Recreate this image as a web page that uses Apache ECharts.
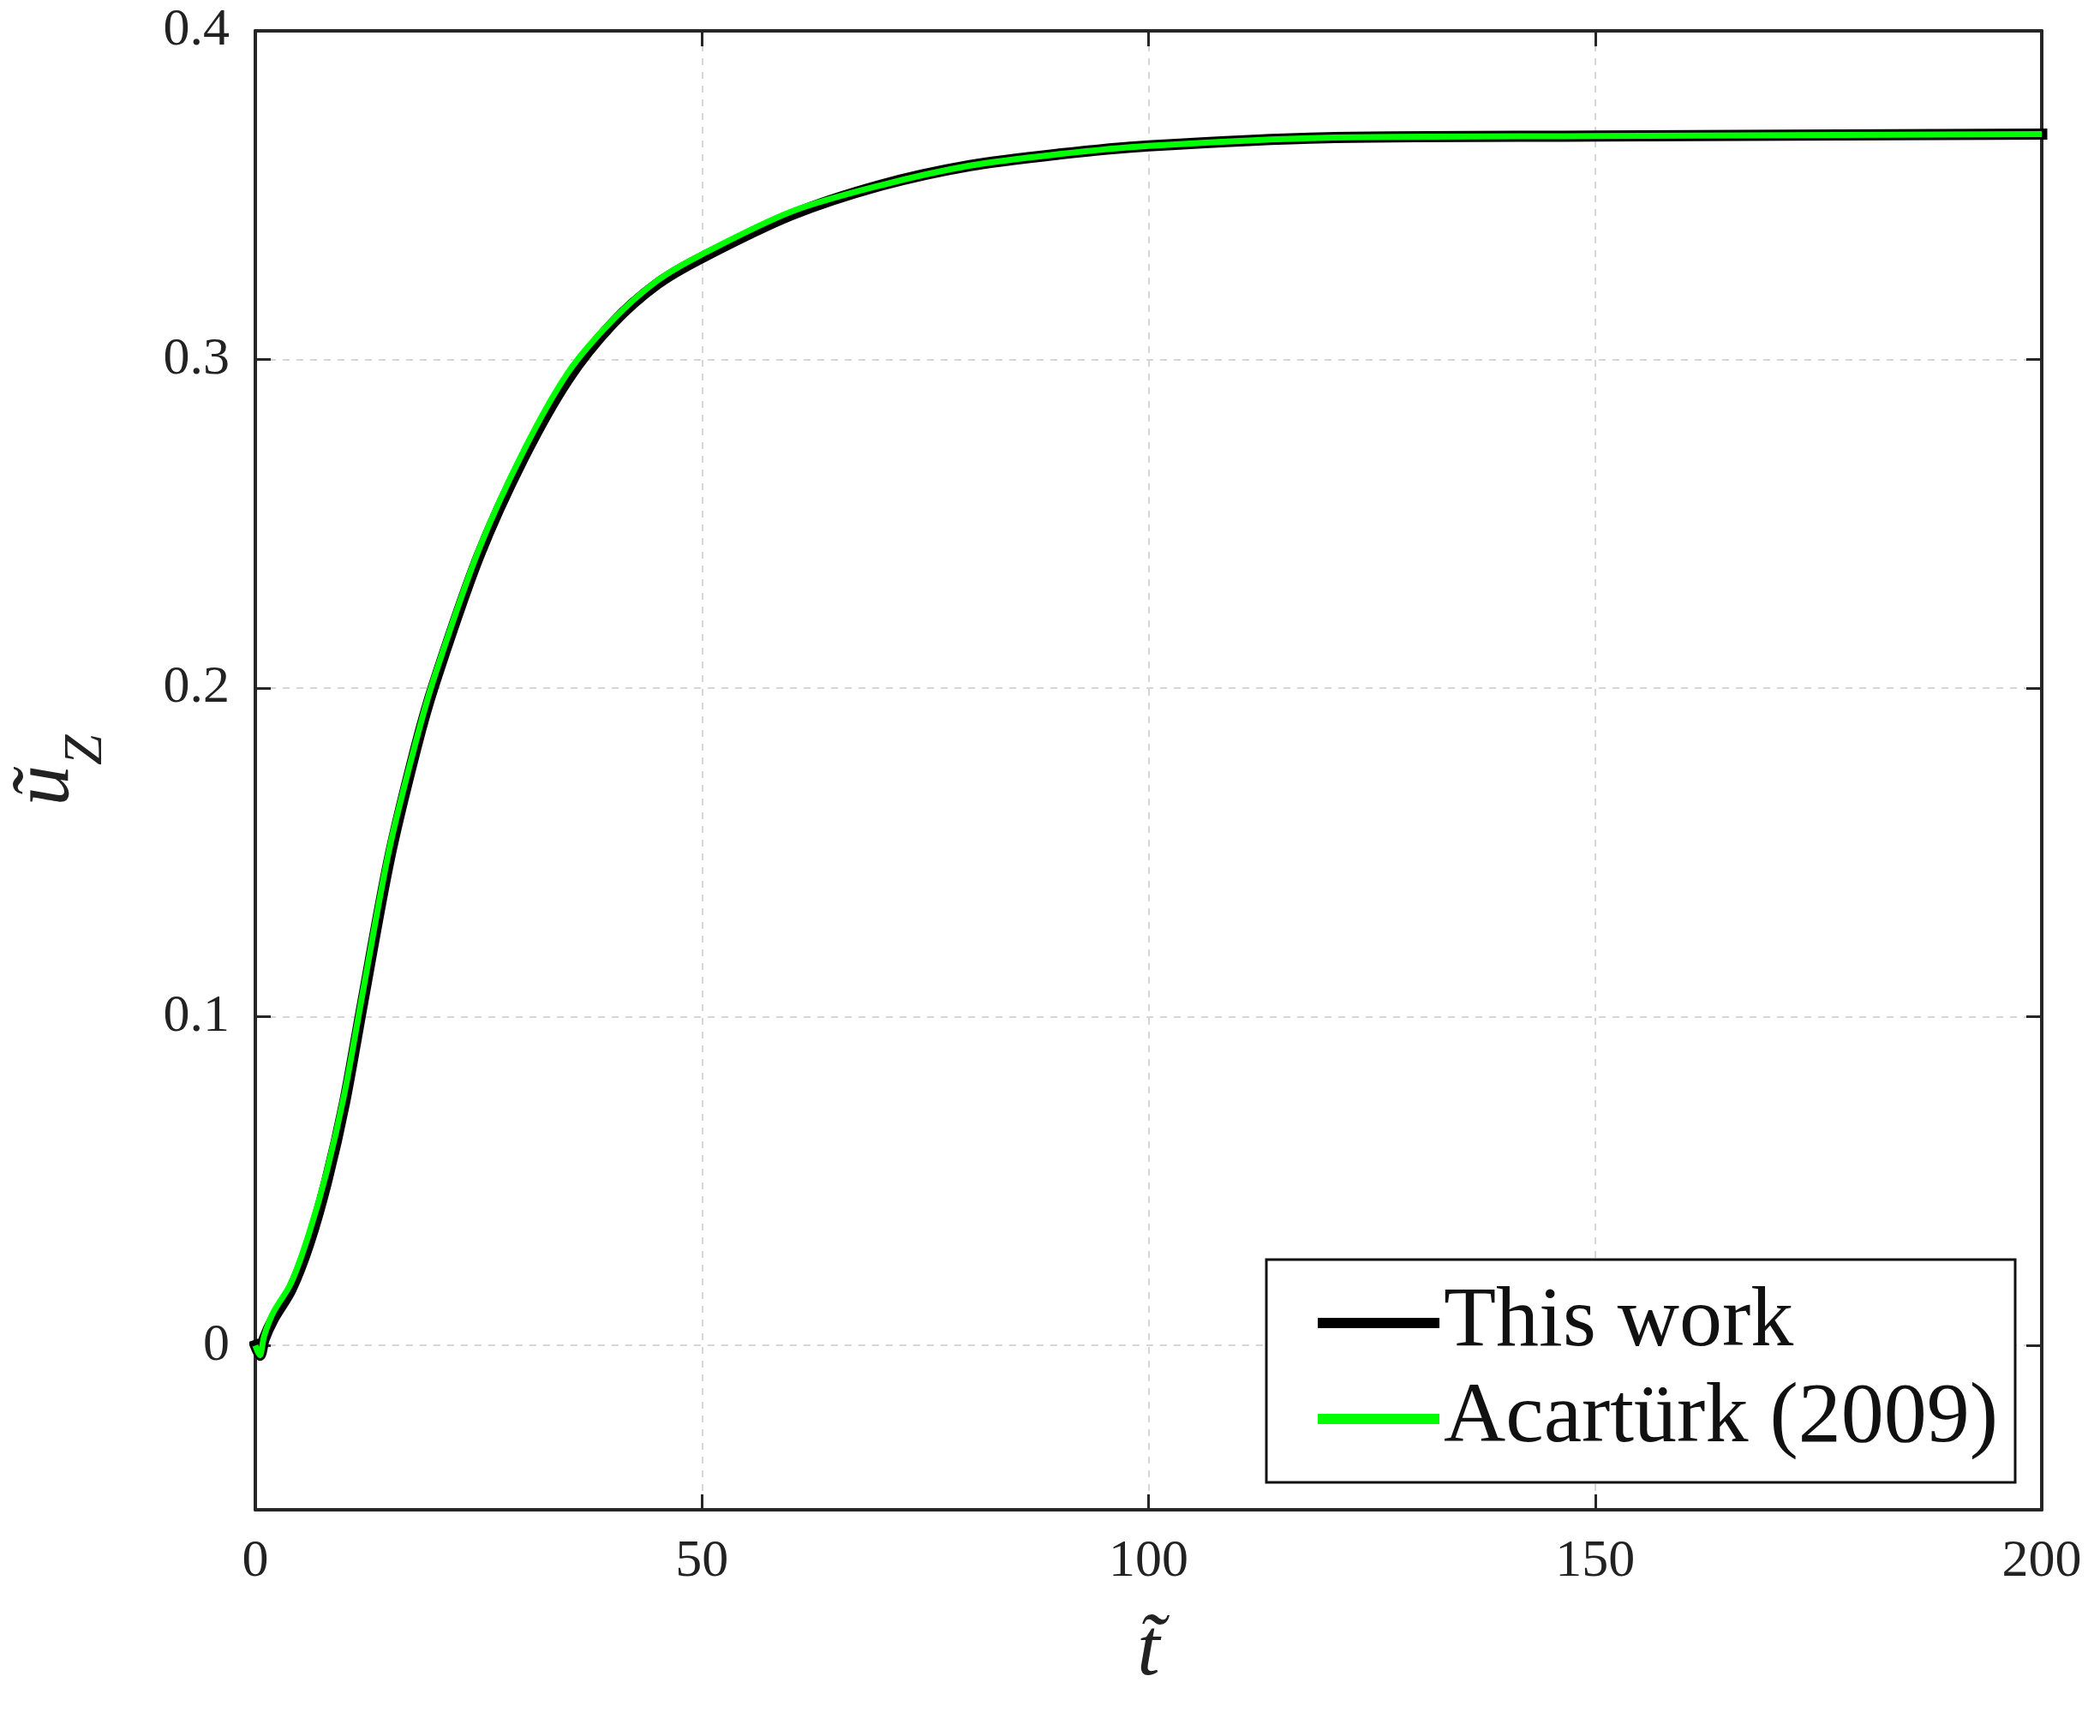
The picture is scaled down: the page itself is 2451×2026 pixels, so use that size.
<!DOCTYPE html>
<html><head><meta charset="utf-8">
<script src="https://cdn.jsdelivr.net/npm/echarts@6/dist/echarts.min.js"></script>
<style>html,body{margin:0;padding:0;background:#fff}#c{width:2451px;height:2026px}</style>
</head><body><div id="c"></div>
<script>
var tValues = [0, 0.5, 1, 2, 4, 6, 8, 10, 12, 15, 18, 20, 25, 30, 35, 40, 45, 50, 60, 70, 80, 90, 100, 120, 150, 200];
var thisWork = [0, -0.003, 0.002, 0.008, 0.017, 0.031, 0.050, 0.074, 0.104, 0.148, 0.182, 0.201, 0.240, 0.270, 0.294, 0.311, 0.323, 0.331, 0.344, 0.353, 0.359, 0.3625, 0.365, 0.3675, 0.368, 0.3686];
var acarturk = [0, -0.003, 0.003, 0.010, 0.019, 0.034, 0.053, 0.077, 0.107, 0.151, 0.184, 0.203, 0.242, 0.272, 0.296, 0.312, 0.324, 0.332, 0.345, 0.353, 0.359, 0.3625, 0.365, 0.3675, 0.368, 0.3686];
var xTicks = [0, 50, 100, 150, 200];
var yTicks = [0, 0.1, 0.2, 0.3, 0.4];

var ff = '"Liberation Serif", "DejaVu Serif", serif';
var axisCol = '#262626';
var chart = echarts.init(document.getElementById('c'));
function pairs(a){return tValues.map(function(t,i){return [t,a[i]];});}
var line = {onZero:false,lineStyle:{color:axisCol,width:4}};
var tick = {inside:true,length:18,lineStyle:{color:axisCol,width:3}};
var grid = {show:true,lineStyle:{color:'#d6d6d6',width:2,type:[8,8]}};
chart.setOption({
  backgroundColor:'#fff',
  animation:false,
  grid:{left:295,right:68,top:36,bottom:264,containLabel:false},
  xAxis:[
    {type:'value',min:0,max:200,interval:50,axisLine:line,axisTick:tick,
      name:'t\u0303',nameLocation:'middle',nameGap:120,
      nameTextStyle:{fontFamily:ff,fontStyle:'italic',fontSize:95,color:'#222'},
      axisLabel:{fontFamily:ff,fontSize:62,color:'#222',margin:30},
      splitLine:grid},
    {type:'value',min:0,max:200,interval:50,position:'top',axisLine:line,axisTick:tick,axisLabel:{show:false},splitLine:{show:false}}
  ],
  yAxis:[
    {type:'value',min:-0.05,max:0.4,axisLine:line,
      axisLabel:{fontFamily:ff,fontSize:62,color:'#222',margin:30,customValues:yTicks,
        formatter:function(v){return Math.abs(v)<1e-9?'0':v.toFixed(1);}},
      axisTick:Object.assign({customValues:yTicks},tick),
      name:'u\u0303{s|Z}',nameLocation:'middle',nameGap:195,nameRotate:90,
      nameTextStyle:{fontFamily:ff,fontStyle:'italic',fontSize:95,color:'#222',
        rich:{s:{fontFamily:ff,fontStyle:'italic',fontSize:64,color:'#222',verticalAlign:'bottom',padding:[0,0,-30,0]}}},
      splitLine:{show:true,lineStyle:{color:'#d6d6d6',width:2,type:[8,8]}}},
    {type:'value',min:-0.05,max:0.4,position:'right',axisLine:line,
      axisTick:Object.assign({customValues:yTicks},tick),
      axisLabel:{show:false},splitLine:{show:false}}
  ],
  legend:{right:99,bottom:296,orient:'vertical',backgroundColor:'#fff',borderColor:'#111',borderWidth:3,
    padding:[24,20,24,60],itemGap:12,itemWidth:142,itemHeight:12,
    textStyle:{fontFamily:ff,fontSize:100,color:'#111'},
    data:[{name:'This work',icon:'rect',itemStyle:{color:'#000'}},{name:'Acartürk (2009)',icon:'rect',itemStyle:{color:'#00ff00'}}]},
  series:[
    {name:'This work',type:'line',smooth:0.3,symbol:'none',data:pairs(thisWork),lineStyle:{color:'#000',width:13,cap:'square'},itemStyle:{color:'#000'},z:2},
    {name:'Acartürk (2009)',type:'line',smooth:0.3,symbol:'none',data:pairs(acarturk),lineStyle:{color:'#00ff00',width:7},itemStyle:{color:'#00ff00'},z:3}
  ]
});
</script></body></html>
